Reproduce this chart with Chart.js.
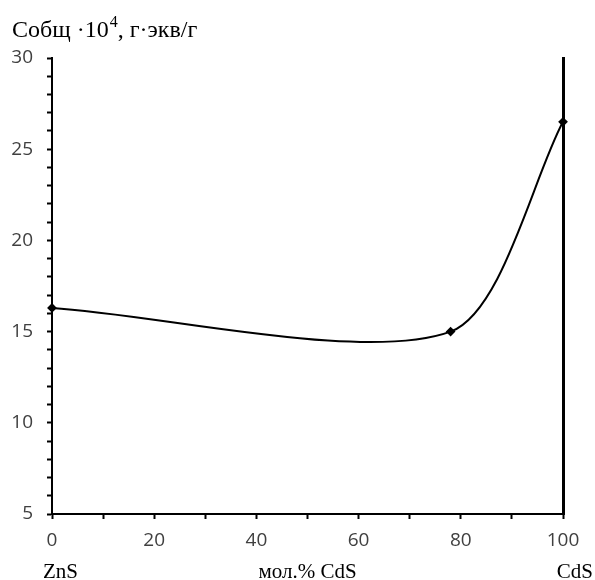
<!DOCTYPE html>
<html>
<head>
<meta charset="utf-8">
<script src="https://cdn.jsdelivr.net/npm/chart.js@4.4.1/dist/chart.umd.min.js"></script>
<style>
  html, body { margin: 0; padding: 0; background: #fff; }
  #wrap { width: 595px; height: 580px; }
</style>
</head>
<body>
<div id="wrap"><canvas id="chart" width="595" height="580"></canvas></div>
<script>
// mol.% CdS and total exchange capacity (x10^4, g-eq/g)
const molPercent = [0, 78, 100];
const capacity = [16.3, 15.0, 26.5];

const xTickLabels = [0, 20, 40, 60, 80, 100];
const yTickLabels = [5, 10, 15, 20, 25, 30];

const titleParts = { main: 'Cобщ ·10', sup: '4', tail: ', г·экв/г' };
const bottomLabels = [
  { x: 0, text: 'ZnS', align: 'left' },
  { x: 50, text: 'мол.% CdS', align: 'center' },
  { x: 100, text: 'CdS', align: 'right' },
];

const tickColor = '#404040';
const serif = "'Liberation Serif', 'DejaVu Serif', serif";

Chart.defaults.font.family = "'Open Sans', sans-serif";
Chart.defaults.font.size = 19;

const textPlugin = {
  id: 'captions',
  afterDraw(chart) {
    const ctx = chart.ctx;
    const x = chart.scales.x;
    ctx.save();
    ctx.fillStyle = '#000';
    ctx.textBaseline = 'alphabetic';

    // axis title, top left
    ctx.font = '24px ' + serif;
    ctx.textAlign = 'left';
    let px = 12;
    ctx.fillText(titleParts.main, px, 37);
    px += ctx.measureText(titleParts.main).width;
    ctx.font = '16px ' + serif;
    ctx.fillText(titleParts.sup, px + 1, 27);
    px += ctx.measureText(titleParts.sup).width + 1;
    ctx.font = '24px ' + serif;
    ctx.fillText(titleParts.tail, px, 37);

    // composition labels under the x axis
    ctx.font = '21px ' + serif;
    bottomLabels.forEach(l => {
      let pos = x.getPixelForValue(l.x);
      ctx.textAlign = l.align;
      if (l.align === 'left') pos -= 9;
      if (l.align === 'right') pos += 30;
      ctx.fillText(l.text, pos, 578);
    });
    ctx.restore();
  },
};

new Chart(document.getElementById('chart'), {
  type: 'line',
  data: {
    datasets: [{
      data: molPercent.map((m, i) => ({ x: m, y: capacity[i] })),
      borderColor: '#000',
      backgroundColor: '#000',
      borderWidth: 2,
      tension: 0.27,
      fill: false,
      pointStyle: 'rectRot',
      pointRadius: 3.5,
      pointBackgroundColor: '#000',
      pointBorderColor: '#000',
      clip: false,
    }],
  },
  options: {
    responsive: false,
    animation: false,
    devicePixelRatio: 1,
    layout: { padding: { left: 0, right: 32, top: 58, bottom: 0 } },
    plugins: {
      legend: { display: false },
      title: { display: false },
      tooltip: { enabled: false },
    },
    scales: {
      x: {
        type: 'linear',
        min: 0,
        max: 100,
        afterFit(scale) { scale.height = 66; },
        afterBuildTicks(scale) {
          scale.ticks = [];
          for (let v = 0; v <= 100; v += 10) scale.ticks.push({ value: v });
        },
        ticks: {
          autoSkip: false,
          maxRotation: 0,
          padding: 10,
          color: tickColor,
          callback: v => (xTickLabels.includes(v) ? v : ''),
        },
        grid: {
          display: true,
          drawOnChartArea: false,
          drawTicks: true,
          tickLength: 5,
          tickWidth: 2,
          tickColor: '#000',
        },
        border: { display: true, color: '#000', width: 2 },
      },
      y: {
        type: 'linear',
        position: 'left',
        min: 5,
        max: 30,
        afterFit(scale) { scale.width = 52; },
        afterBuildTicks(scale) {
          scale.ticks = [];
          for (let v = 5; v <= 30; v += 1) scale.ticks.push({ value: v });
        },
        ticks: {
          autoSkip: false,
          padding: 14,
          color: tickColor,
          callback: v => (yTickLabels.includes(v) ? v : ''),
        },
        grid: {
          display: true,
          drawOnChartArea: false,
          drawTicks: true,
          tickLength: 5,
          tickWidth: 2,
          tickColor: '#000',
        },
        border: { display: true, color: '#000', width: 2 },
      },
      y2: {
        type: 'linear',
        position: 'right',
        min: 5,
        max: 30,
        afterFit(scale) { scale.width = 0; },
        ticks: { display: false },
        grid: { display: false },
        border: { display: true, color: '#000', width: 3 },
      },
    },
  },
  plugins: [textPlugin],
});
</script>
</body>
</html>
